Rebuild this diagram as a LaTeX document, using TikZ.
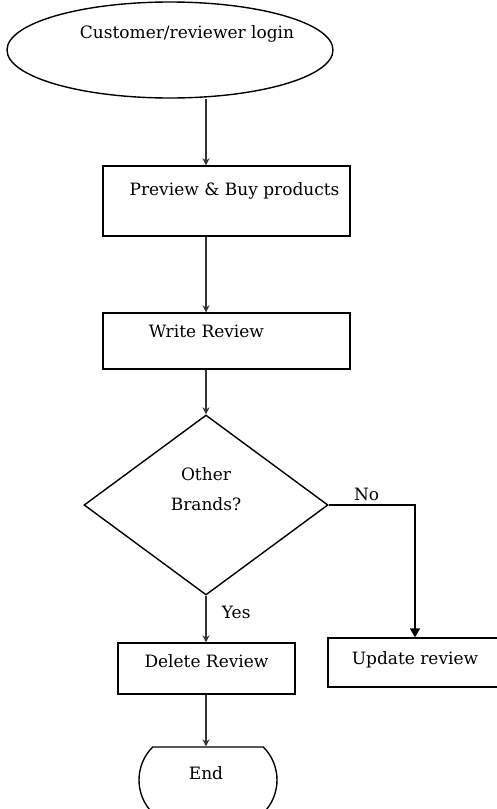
\documentclass[tikz,border=0pt]{standalone}
\usepackage{fontspec}
\setmainfont{DejaVu Serif}
\usetikzlibrary{arrows.meta, positioning, shapes.geometric, shapes.misc}
% text set off-centre inside its shape
\newcommand{\offtext}[2]{\makebox[0pt]{\hspace*{#1}#2\hspace*{-#1}}}

\begin{document}
\begin{tikzpicture}[x=1pt, y=-1pt,
    every node/.style={font=\fontsize{17}{30}\selectfont},
    shapeline/.style={draw, line width=1.4pt},
    procbox/.style={shapeline, rectangle, inner sep=0pt, text height=12pt},
    flow/.style={draw=black!80, line width=1.3pt, -{Stealth[length=7pt, width=7pt]}},
    noflow/.style={draw, line width=1.7pt, -{Triangle[length=9pt, width=10pt]}}]
    \useasboundingbox (0,0) rectangle (497,809);
    \coordinate (spine) at (206,0);

    % Start
    \node[shapeline, ellipse, inner sep=0pt, text height=12pt, text depth=36pt,
          minimum width=326pt, minimum height=96pt] (login) at (170,50) {\offtext{17pt}{Customer/reviewer login}};

    % Main column
    \node[procbox, text depth=24pt, minimum width=247pt, minimum height=70pt] (buy) at (226.5,201) {\offtext{8pt}{Preview \& Buy products}};
    \node[procbox, text depth=20pt, minimum width=247pt, minimum height=56pt] (write) at (226.5,341) {\offtext{-20pt}{Write Review}};

    % Decision
    \node[shapeline, diamond, inner sep=0pt, minimum width=244pt, minimum height=180pt] (brands) at (206,505) {};
    \node[align=center] (brandstext) at (206,489) {Other\\Brands?};

    % Outcomes
    \node[procbox, text depth=15pt, minimum width=177pt, minimum height=51pt] (delete) at (206.5,668.5) {Delete Review};
    \node[procbox, text depth=9pt, minimum width=174pt, minimum height=49pt] (update) at (415,662.5) {Update review};

    % End
    \node[shapeline, rounded rectangle, rounded rectangle arc length=90, inner sep=0pt,
          text height=12pt, text depth=14pt, minimum width=138pt, minimum height=66pt] (theend) at (208,780) {\offtext{-2pt}{End}};

    % Arrows
    \draw[flow] (login.south -| spine) -- (buy.north -| spine);
    \draw[flow] (buy.south -| spine) -- (write.north -| spine);
    \draw[flow] (write.south -| spine) -- (brands.north);
    \draw[flow] (brands.south) -- node[pos=0.35, right=12pt] (yeslbl) {Yes} (delete.north -| spine);
    \draw[noflow] (brands.east) -| node[pos=0.22, above] (nolbl) {No} (update.north);
    \draw[flow] (delete.south -| spine) -- (theend.north -| spine);
\end{tikzpicture}
\end{document}
